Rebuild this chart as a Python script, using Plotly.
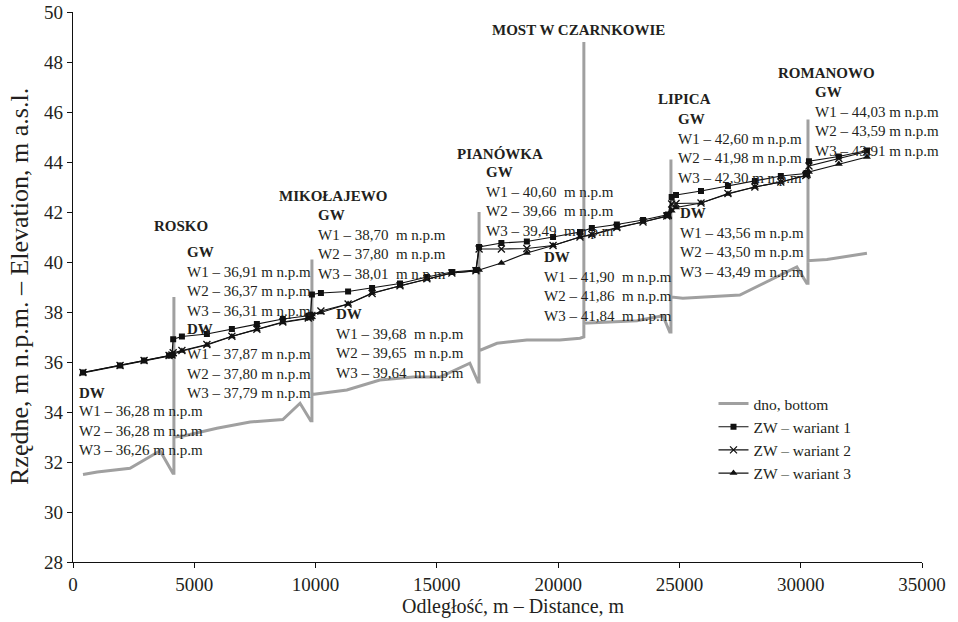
import plotly.graph_objects as go

# ---------------- data ----------------
bottom_x = [412, 1000, 2350, 3590, 4120, 4160, 4160, 4160, 4600, 5930, 7300, 8650, 9360, 9800,
            9850, 9850, 9850, 11290, 12650, 14020, 15130, 16360, 16700, 16740, 16740, 16740,
            17480, 18710, 20070, 20900, 21060, 21060, 21060, 22130, 23250, 24320, 24600,
            24650, 24650, 24650, 25140, 27490, 29840, 30250, 30300, 30300, 30300, 31080, 32730]
bottom_y = [31.50, 31.60, 31.75, 32.45, 31.55, 31.55, 38.60, 33.00, 33.05, 33.35, 33.60, 33.70,
            34.35, 33.65, 33.65, 40.10, 34.70, 34.88, 35.28, 35.40, 35.40, 35.95, 35.20, 35.20,
            42.00, 36.45, 36.75, 36.88, 36.88, 36.95, 37.00, 48.80, 37.55, 37.60, 37.65, 37.85,
            37.20, 37.20, 44.10, 38.60, 38.55, 38.68, 39.80, 39.15, 39.15, 45.70, 40.05, 40.10,
            40.35]

station_x = [410, 1940, 2930, 3960, 4080, 4130, 4490, 5520, 6550, 7580, 8650, 9700, 9790, 9850,
             10220, 11340, 12330, 13480, 14590, 15620, 16610, 16740, 17660, 18710, 19790, 20900,
             21390, 22420, 23500, 24480, 24540, 24680, 24860, 25890, 27000, 28110, 29180, 30210,
             30260, 30340, 31570, 32730]
w1_y = [35.58, 35.86, 36.06, 36.26, 36.28, 36.91, 37.02, 37.12, 37.32, 37.52, 37.72, 37.85,
        37.87, 38.70, 38.76, 38.82, 38.96, 39.14, 39.40, 39.60, 39.68, 40.60, 40.76, 40.82,
        41.00, 41.20, 41.36, 41.50, 41.68, 41.88, 41.90, 42.60, 42.68, 42.84, 43.04, 43.24,
        43.44, 43.54, 43.56, 44.03, 44.22, 44.46]
w2_y = [35.58, 35.86, 36.06, 36.26, 36.28, 36.37, 36.46, 36.70, 37.03, 37.31, 37.60, 37.76,
        37.80, 37.86, 38.04, 38.32, 38.74, 39.05, 39.33, 39.56, 39.65, 40.52, 40.52, 40.54,
        40.66, 41.00, 41.10, 41.38, 41.60, 41.84, 41.86, 42.32, 42.34, 42.36, 42.74, 43.00,
        43.20, 43.46, 43.50, 43.84, 44.14, 44.42]
w3_y = [35.56, 35.85, 36.05, 36.24, 36.26, 36.31, 36.44, 36.68, 37.02, 37.30, 37.58, 37.74,
        37.79, 37.90, 37.98, 38.32, 38.76, 39.04, 39.32, 39.56, 39.64, 39.68, 39.96, 40.36,
        40.66, 41.00, 41.08, 41.36, 41.60, 41.82, 41.84, 42.05, 42.18, 42.36, 42.72, 43.00,
        43.20, 43.46, 43.49, 43.60, 43.92, 44.20]

series_names = ["dno, bottom", "ZW – wariant 1", "ZW – wariant 2", "ZW – wariant 3"]

x_ticks = [0, 5000, 10000, 15000, 20000, 25000, 30000, 35000]
y_ticks = [28, 30, 32, 34, 36, 38, 40, 42, 44, 46, 48, 50]

# label blocks: (heading, [lines])
blocks = {
    "dw_rosko": ("DW", ["W1 – 36,28 m n.p.m", "W2 – 36,28 m n.p.m", "W3 – 36,26 m n.p.m"]),
    "gw_rosko": ("GW", ["W1 – 36,91 m n.p.m", "W2 – 36,37 m n.p.m", "W3 – 36,31 m n.p.m"]),
    "dw_mik": ("DW", ["W1 – 37,87 m n.p.m", "W2 – 37,80 m n.p.m", "W3 – 37,79 m n.p.m"]),
    "gw_mik": ("GW", ["W1 – 38,70  m n.p.m", "W2 – 37,80  m n.p.m", "W3 – 38,01  m n.p.m"]),
    "dw_pia": ("DW", ["W1 – 39,68  m n.p.m", "W2 – 39,65  m n.p.m", "W3 – 39,64  m n.p.m"]),
    "gw_pia": ("GW", ["W1 – 40,60  m n.p.m", "W2 – 39,66  m n.p.m", "W3 – 39,49  m n.p.m"]),
    "dw_lip": ("DW", ["W1 – 41,90  m n.p.m", "W2 – 41,86  m n.p.m", "W3 – 41,84  m n.p.m"]),
    "gw_lip": ("GW", ["W1 – 42,60 m n.p.m", "W2 – 41,98 m n.p.m", "W3 – 42,30 m n.p.m"]),
    "dw_rom": ("DW", ["W1 – 43,56 m n.p.m", "W2 – 43,50 m n.p.m", "W3 – 43,49 m n.p.m"]),
    "gw_rom": ("GW", ["W1 – 44,03 m n.p.m", "W2 – 43,59 m n.p.m", "W3 – 43,91 m n.p.m"]),
}
station_names = ["ROSKO", "MIKOŁAJEWO", "PIANÓWKA", "MOST W CZARNKOWIE", "LIPICA", "ROMANOWO"]

# ---------------- layout helpers ----------------
W, H = 958, 622
PL, PR, PT, PB = 73, 922, 12, 562          # plot area in pixels
XR = (0, 35000)
YR = (28, 50)
FS = 15            # label font size
SP = FS * 1.3      # plotly line spacing


def dx(px):
    return XR[0] + (px - PL) * (XR[1] - XR[0]) / (PR - PL)


def dy(py):
    return YR[1] - (py - PT) * (YR[1] - YR[0]) / (PB - PT)


def fx(px):
    return (px - PL) / (PR - PL)


def fy(py):
    return (PB - py) / (PB - PT)


FONT = "Liberation Serif, Times New Roman, serif"
TXT = "#231f20"

fig = go.Figure()
fig.add_trace(go.Scatter(x=bottom_x, y=bottom_y, mode="lines", name=series_names[0],
                         line=dict(color="#a0a0a0", width=3)))
fig.add_trace(go.Scatter(x=station_x, y=w1_y, mode="lines+markers", name=series_names[1],
                         line=dict(color="#111", width=1.2),
                         marker=dict(symbol="square", size=6, color="#111")))
fig.add_trace(go.Scatter(x=station_x, y=w2_y, mode="lines+markers", name=series_names[2],
                         line=dict(color="#111", width=1.2),
                         marker=dict(symbol="x-thin", size=7, color="#111",
                                     line=dict(color="#111", width=1.3))))
fig.add_trace(go.Scatter(x=station_x, y=w3_y, mode="lines+markers", name=series_names[3],
                         line=dict(color="#111", width=1.2),
                         marker=dict(symbol="triangle-up", size=7, color="#111")))

ann = []


def text(px, py, s, anchor="left", size=FS):
    ann.append(dict(x=dx(px), y=dy(py), xref="x", yref="y", text=s, align="left",
                    showarrow=False, xanchor=anchor, yanchor="middle",
                    font=dict(family=FONT, size=size, color=TXT)))


def block(key, px, first_py, with_head=True):
    """Multi-line label; first_py = centre of the first line (pixels)."""
    head, lines = blocks[key]
    rows = (["<b>%s</b>" % head] if with_head else []) + lines
    centre = first_py + (len(rows) - 1) * SP / 2
    text(px, centre, "<br>".join(rows))


# station names
text(181, 226, "<b>%s</b>" % station_names[0], anchor="center")
text(333, 196, "<b>%s</b>" % station_names[1], anchor="center")
text(500, 154, "<b>%s</b>" % station_names[2], anchor="center")
text(578, 30, "<b>%s</b>" % station_names[3], anchor="center")
text(684, 99, "<b>%s</b>" % station_names[4], anchor="center")
text(826, 73, "<b>%s</b>" % station_names[5], anchor="center")

# far-left DW (Rosko tail water)
text(77, 393, "<b>DW</b>")
block("dw_rosko", 77, 430 - SP, with_head=False)
# Rosko head water
block("gw_rosko", 185, 252)
# Mikołajewo tail water (below Rosko)
text(185, 329, "<b>DW</b>")
block("dw_mik", 185, 373 - SP, with_head=False)
# Mikołajewo head water / Pianówka tail water
block("gw_mik", 316, 215)
block("dw_pia", 334, 314)
# Pianówka head water / Lipica tail water
block("gw_pia", 484, 172)
block("dw_lip", 542, 257)
# Lipica head water / Romanowo tail water
block("gw_lip", 676, 119)
block("dw_rom", 678, 213)
# Romanowo head water
block("gw_rom", 813, 92)

# axis titles
ann.append(dict(x=fx(513), y=fy(606), xref="paper", yref="paper",
                text="Odległość, m – Distance, m", showarrow=False, xanchor="center", yanchor="middle",
                font=dict(family=FONT, size=20, color=TXT)))
ann.append(dict(x=fx(19), y=fy(287), xref="paper", yref="paper",
                text="Rzędne, m n.p.m. – Elevation, m a.s.l.", showarrow=False, textangle=-90,
                xanchor="center", yanchor="middle",
                font=dict(family=FONT, size=26, color=TXT)))

fig.update_layout(
    width=W, height=H,
    margin=dict(l=PL, r=W - PR, t=PT, b=H - PB, autoexpand=False),
    paper_bgcolor="white", plot_bgcolor="white",
    font=dict(family=FONT, color=TXT),
    showlegend=True,
    legend=dict(x=fx(713.5), y=fy(387), xanchor="left", yanchor="top",
                bgcolor="rgba(0,0,0,0)", font=dict(family=FONT, size=15.5, color=TXT),
                tracegroupgap=0, itemwidth=30),
    annotations=ann,
    xaxis=dict(range=list(XR), tickvals=x_ticks, ticktext=[str(v) for v in x_ticks],
               showgrid=False, zeroline=False, showline=True, linecolor="#111", linewidth=1.2,
               ticks="outside", ticklen=5, tickcolor="#111", automargin=False,
               tickfont=dict(family=FONT, size=19, color=TXT)),
    yaxis=dict(range=list(YR), tickvals=y_ticks, ticktext=[str(v) for v in y_ticks],
               showgrid=False, zeroline=False, showline=True, linecolor="#111", linewidth=1.2,
               ticks="outside", ticklen=5, tickcolor="#111", automargin=False,
               tickfont=dict(family=FONT, size=19, color=TXT)),
)

# remove the default 8 px page margin so the figure fills the window exactly
fig.write_html("out.html", config={"displayModeBar": False},
               post_script="document.body.style.margin='0px'; document.body.style.overflow='hidden';")
